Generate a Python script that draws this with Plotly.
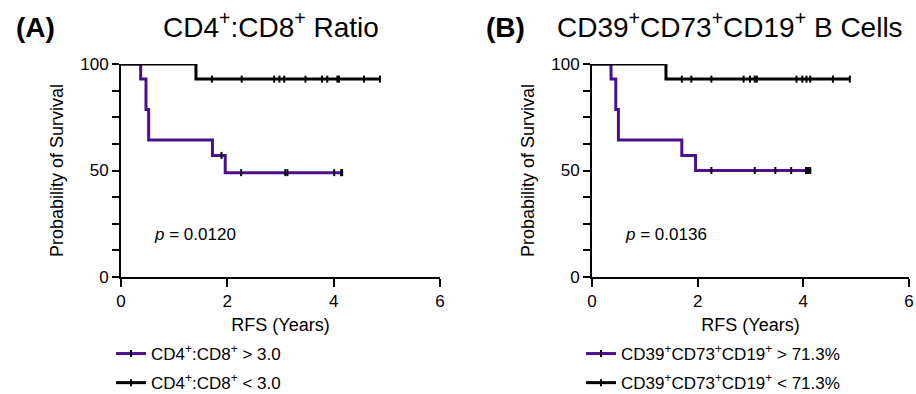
import plotly.graph_objects as go

# ---------------- data ----------------
# Panel A: CD4+:CD8+ ratio
a_hi_t = [0, 0.37, 0.47, 0.52, 1.72, 1.96, 4.16]
a_hi_s = [100, 92.9, 78.6, 64.3, 57.1, 49.0, 49.0]
a_hi_cens_t = [1.89, 2.26, 3.09, 3.13, 4.01, 4.14, 4.16]
a_hi_cens_s = [57.1, 49.0, 49.0, 49.0, 49.0, 49.0, 49.0]

a_lo_t = [0, 1.41, 4.87]
a_lo_s = [100, 92.9, 92.9]
a_lo_cens_t = [1.71, 2.27, 2.88, 2.98, 3.07, 3.47, 3.78, 3.88, 4.07, 4.10, 4.57, 4.87]
a_lo_cens_s = [92.9] * 12

# Panel B: CD39+CD73+CD19+ B cells
b_hi_t = [0, 0.36, 0.45, 0.50, 1.70, 1.96, 4.15]
b_hi_s = [100, 92.9, 78.6, 64.3, 57.1, 50.0, 50.0]
b_hi_cens_t = [2.26, 3.08, 3.47, 3.77, 4.05, 4.09, 4.13]
b_hi_cens_s = [50.0] * 7

b_lo_t = [0, 1.40, 4.88]
b_lo_s = [100, 92.9, 92.9]
b_lo_cens_t = [1.70, 1.88, 2.26, 2.87, 2.99, 3.08, 3.12, 3.87, 3.98, 4.06, 4.13, 4.56, 4.88]
b_lo_cens_s = [92.9] * 13

x_ticks = [0, 2, 4, 6]
y_ticks = [0, 12.5, 25, 37.5, 50, 62.5, 75, 87.5, 100]
y_tick_labels = ["0", "", "", "", "50", "", "", "", "100"]

name_a_hi = "CD4<sup>+</sup>:CD8<sup>+</sup> > 3.0"
name_a_lo = "CD4<sup>+</sup>:CD8<sup>+</sup> < 3.0"
name_b_hi = "CD39<sup>+</sup>CD73<sup>+</sup>CD19<sup>+</sup> > 71.3%"
name_b_lo = "CD39<sup>+</sup>CD73<sup>+</sup>CD19<sup>+</sup> < 71.3%"
title_a = "CD4<sup>+</sup>:CD8<sup>+</sup> Ratio"
title_b = "CD39<sup>+</sup>CD73<sup>+</sup>CD19<sup>+</sup> B Cells"
p_a = "<i>p</i> = 0.0120"
p_b = "<i>p</i> = 0.0136"

# ---------------- style ----------------
PURPLE = "#4B0F8C"
BLACK = "#000000"
FONT = "Arial, Liberation Sans, sans-serif"
W, H = 916, 394

fig = go.Figure()


def add_group(t, s, ct, cs, color, name, xa, ya, legend, group):
    fig.add_trace(go.Scatter(x=t, y=s, mode="lines", line=dict(color=color, width=3, shape="hv"),
                             xaxis=xa, yaxis=ya, showlegend=False, cliponaxis=False, hoverinfo="skip"))
    fig.add_trace(go.Scatter(x=ct, y=cs, mode="markers",
                             marker=dict(symbol="line-ns", size=5, line=dict(color=BLACK, width=2)),
                             xaxis=xa, yaxis=ya, showlegend=False, cliponaxis=False, hoverinfo="skip"))
    # legend entry (line with censor tick)
    fig.add_trace(go.Scatter(x=[None], y=[None], mode="lines+markers", name=name,
                             line=dict(color=color, width=3),
                             marker=dict(symbol="line-ns", size=5, line=dict(color=BLACK, width=2)),
                             xaxis=xa, yaxis=ya, legend=legend, legendgroup=group))


add_group(a_hi_t, a_hi_s, a_hi_cens_t, a_hi_cens_s, PURPLE, name_a_hi, "x", "y", "legend", "a1")
add_group(a_lo_t, a_lo_s, a_lo_cens_t, a_lo_cens_s, BLACK, name_a_lo, "x", "y", "legend", "a2")
add_group(b_hi_t, b_hi_s, b_hi_cens_t, b_hi_cens_s, PURPLE, name_b_hi, "x2", "y2", "legend2", "b1")
add_group(b_lo_t, b_lo_s, b_lo_cens_t, b_lo_cens_s, BLACK, name_b_lo, "x2", "y2", "legend2", "b2")

y_dom = [(H - 277) / H, (H - 64) / H]
xa_dom = [121 / W, 440 / W]
xb_dom = [592 / W, 909 / W]

axis_common = dict(showgrid=False, zeroline=False, showline=True, linecolor=BLACK, linewidth=2,
                   ticks="outside", tickcolor=BLACK, tickwidth=2, ticklen=8, automargin=False,
                   tickfont=dict(family=FONT, size=17, color=BLACK))

xaxis_style = dict(axis_common, range=[0, 6], tickmode="array", tickvals=x_ticks,
                   title=dict(text="RFS (Years)", font=dict(family=FONT, size=18, color=BLACK), standoff=8))
yaxis_style = dict(axis_common, range=[0, 100], tickmode="array", tickvals=y_ticks,
                   ticktext=y_tick_labels, ticklen=7,
                   title=dict(text="Probability of Survival", font=dict(family=FONT, size=18, color=BLACK), standoff=12))

legend_common = dict(font=dict(family=FONT, size=17, color=BLACK), bgcolor="rgba(0,0,0,0)",
                     xanchor="left", yanchor="top", itemwidth=30, tracegroupgap=4)

fig.update_layout(
    template="none",
    width=W, height=H, margin=dict(l=0, r=0, t=0, b=0, autoexpand=False),
    paper_bgcolor="white", plot_bgcolor="white",
    font=dict(family=FONT, color=BLACK),
    xaxis=dict(xaxis_style, domain=xa_dom, anchor="y"),
    yaxis=dict(yaxis_style, domain=y_dom, anchor="x"),
    xaxis2=dict(xaxis_style, domain=xb_dom, anchor="y2"),
    yaxis2=dict(yaxis_style, domain=y_dom, anchor="x2"),
    legend=dict(legend_common, x=111 / W, y=(H - 336) / H),
    legend2=dict(legend_common, x=581 / W, y=(H - 336) / H),
    annotations=[
        dict(text="<b>(A)</b>", x=14 / W, y=(H - 27) / H, xref="paper", yref="paper", xanchor="left",
             yanchor="middle", showarrow=False, font=dict(family=FONT, size=28, color=BLACK)),
        dict(text=title_a, x=271 / W, y=(H - 25) / H, xref="paper", yref="paper", xanchor="center",
             yanchor="middle", showarrow=False, font=dict(family=FONT, size=28, color=BLACK)),
        dict(text="<b>(B)</b>", x=484 / W, y=(H - 27) / H, xref="paper", yref="paper", xanchor="left",
             yanchor="middle", showarrow=False, font=dict(family=FONT, size=28, color=BLACK)),
        dict(text=title_b, x=730 / W, y=(H - 25) / H, xref="paper", yref="paper", xanchor="center",
             yanchor="middle", showarrow=False, font=dict(family=FONT, size=28, color=BLACK)),
        dict(text=p_a, x=0.58, y=20, xref="x", yref="y", xanchor="left", yanchor="middle",
             showarrow=False, font=dict(family=FONT, size=17, color=BLACK)),
        dict(text=p_b, x=0.58, y=20, xref="x2", yref="y2", xanchor="left", yanchor="middle",
             showarrow=False, font=dict(family=FONT, size=17, color=BLACK)),
    ],
)

fig.write_html("out.html",
               config={"displayModeBar": False, "staticPlot": True},
               post_script="document.body.style.margin='0';document.body.style.padding='0';"
                           "document.body.style.overflow='hidden';")
